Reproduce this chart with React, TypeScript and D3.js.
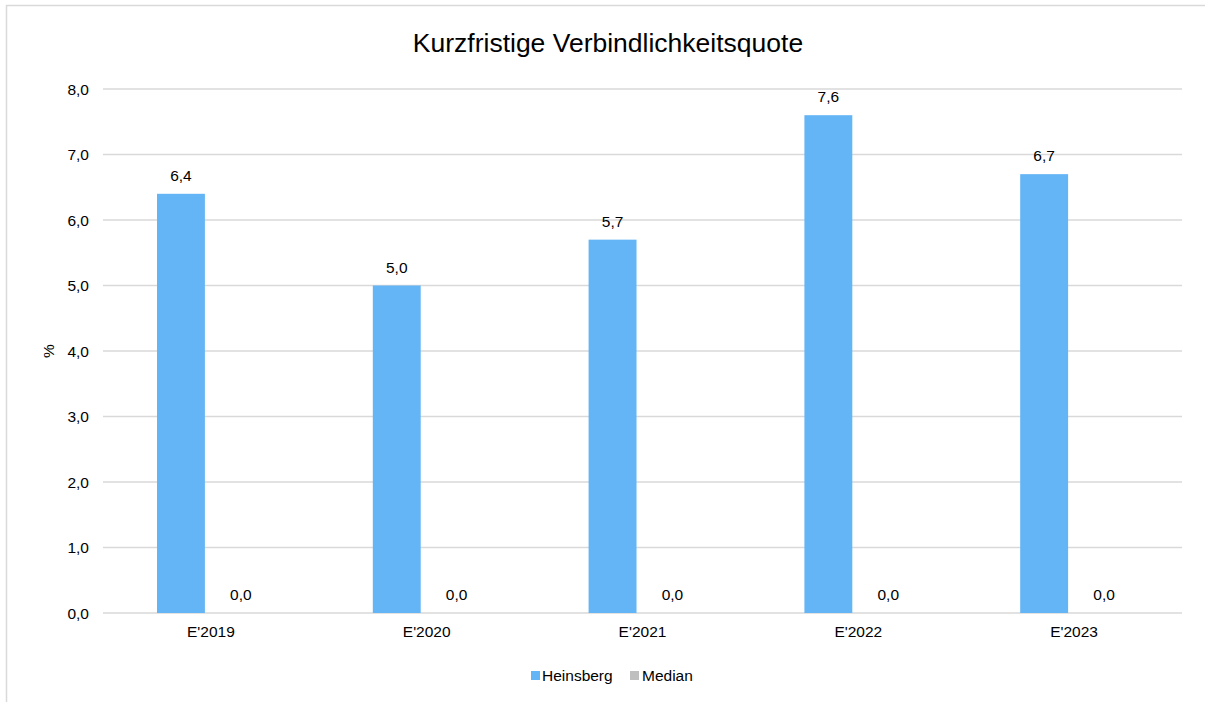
import React from "react";
import * as d3 from "d3";

const categories = ["E'2019", "E'2020", "E'2021", "E'2022", "E'2023"];
const heinsberg = [6.4, 5.0, 5.7, 7.6, 6.7];
const median = [0, 0, 0, 0, 0];
const yTicks = [0, 1, 2, 3, 4, 5, 6, 7, 8];

const series = [
  { name: "Heinsberg", values: heinsberg, color: "#64B5F6" },
  { name: "Median", values: median, color: "#BFBFBF" },
];

const fmt = (v: number) => v.toFixed(1).replace(".", ",");

export default function App() {
  const width = 1205;
  const height = 702;
  const margin = { left: 103, right: 23, top: 89, bottom: 89 };
  const font = "'Liberation Sans', Arial, sans-serif";
  const fs = 15.5;

  const x = d3
    .scaleBand<string>()
    .domain(categories)
    .range([margin.left, width - margin.right]);
  const inner = d3
    .scaleBand<string>()
    .domain(series.map((s) => s.name))
    .range([54, x.bandwidth() - 54])
    .paddingInner(0.2);
  const y = d3
    .scaleLinear()
    .domain([0, 8])
    .range([height - margin.bottom, margin.top]);

  return (
    <svg
      width={width}
      height={height}
      style={{ position: "absolute", left: 0, top: 0, fontFamily: font }}
    >
      <rect x={0} y={0} width={width} height={height} fill="#fff" />
      <rect
        x={6.5}
        y={5.5}
        width={width + 10}
        height={height + 10}
        fill="none"
        stroke="#D9D9D9"
        strokeWidth={1.5}
      />
      <text x={608} y={52} textAnchor="middle" fontSize={26.5} fill="#000">
        Kurzfristige Verbindlichkeitsquote
      </text>
      {yTicks.map((t) => (
        <g key={t}>
          <line
            x1={margin.left}
            x2={width - margin.right}
            y1={y(t)}
            y2={y(t)}
            stroke="#D9D9D9"
            strokeWidth={1.3}
          />
          <text
            x={89}
            y={y(t) + 5.5}
            textAnchor="end"
            fontSize={fs}
            fill="#000"
          >
            {fmt(t)}
          </text>
        </g>
      ))}
      <text
        transform={`translate(54,${(y(0) + y(8)) / 2}) rotate(-90)`}
        textAnchor="middle"
        fontSize={fs}
        fill="#000"
      >
        %
      </text>
      {categories.map((c, i) => (
        <g key={c} transform={`translate(${x(c)},0)`}>
          {series.map((s) => {
            const v = s.values[i];
            const bx = inner(s.name) || 0;
            return (
              <g key={s.name}>
                <rect
                  x={bx}
                  y={y(v)}
                  width={inner.bandwidth()}
                  height={y(0) - y(v)}
                  fill={s.color}
                />
                <text
                  x={bx + inner.bandwidth() / 2}
                  y={y(v) - 13}
                  textAnchor="middle"
                  fontSize={fs}
                  fill="#000"
                >
                  {fmt(v)}
                </text>
              </g>
            );
          })}
          <text
            x={x.bandwidth() / 2}
            y={y(0) + 24}
            textAnchor="middle"
            fontSize={fs}
            fill="#000"
          >
            {c}
          </text>
        </g>
      ))}
      <g transform="translate(531,675)">
        <rect x={0} y={-4} width={9} height={9} fill={series[0].color} />
        <text x={11} y={5.5} fontSize={fs} fill="#000">
          Heinsberg
        </text>
        <rect x={99} y={-4} width={9} height={9} fill={series[1].color} />
        <text x={111} y={5.5} fontSize={fs} fill="#000">
          Median
        </text>
      </g>
    </svg>
  );
}
